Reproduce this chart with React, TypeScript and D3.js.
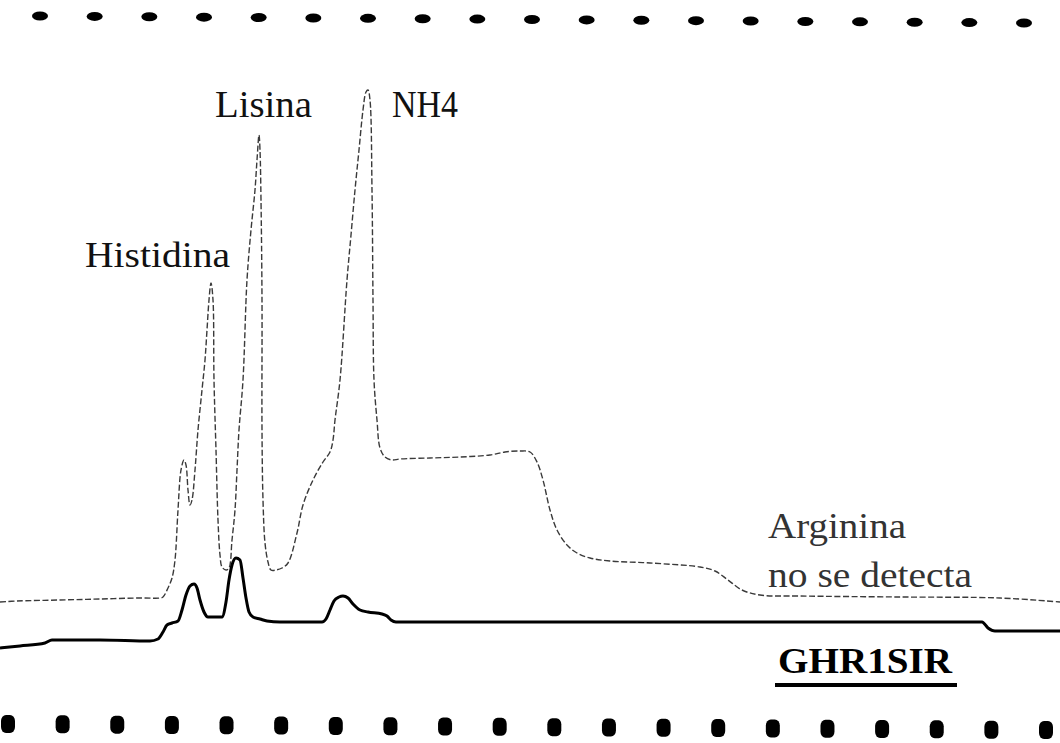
import React from 'react';
import * as d3 from 'd3';

const W = 1060;
const H = 743;

// Standard (thin trace): [retention time, detector signal]
const standardTrace: [number, number][] = [
  [0, 48], [1.7, 49], [6, 50], [10, 51], [14, 52], [16, 52], [16.3, 53], [16.8, 62], [17.2, 72], [17.5, 90],
  [17.8, 140], [18.1, 180], [18.4, 190], [18.6, 185], [18.8, 160], [19, 145], [19.2, 150], [19.5, 180], [19.8, 220],
  [20.2, 260], [20.5, 290], [20.7, 320], [20.9, 350], [21.1, 367], [21.3, 350], [21.4, 270], [21.6, 200], [21.8, 130],
  [22, 95], [22.2, 83], [22.6, 80], [22.9, 82], [23.2, 110], [23.5, 140], [23.7, 180], [23.9, 220], [24.3, 270],
  [24.7, 370], [25.1, 420], [25.5, 460], [25.7, 490], [25.9, 515], [26, 500], [26.1, 450], [26.2, 350], [26.2, 220],
  [26.3, 150], [26.5, 107], [26.8, 88], [27.1, 80], [27.6, 80], [28.2, 82], [28.8, 87], [29.7, 117], [30.3, 145],
  [31.3, 170], [32.3, 188], [33, 198], [33.3, 210], [33.5, 230], [34, 270], [34.7, 370], [35.1, 415], [35.5, 460],
  [35.9, 500], [36.3, 540], [36.6, 558], [36.8, 560], [37, 550], [37.2, 460], [37.3, 350], [37.4, 270], [37.7, 230],
  [38, 202], [38.5, 193], [39.2, 190], [40, 191], [43, 192], [46, 193], [49, 195], [50.5, 198], [52, 199], [53, 198],
  [53.7, 188], [54.3, 170], [55, 140], [55.7, 120], [56.7, 105], [57.7, 97], [59, 92], [61, 89], [65, 87], [70, 83],
  [71.5, 79], [72.8, 70], [74.2, 60], [76, 55], [80, 54], [90, 53], [100, 52], [106, 48]
];

// Sample GHR1SIR (thick trace): [retention time, detector signal]
const sampleTrace: [number, number][] = [
  [0, 2], [2, 4], [4.5, 7], [5.2, 10], [10, 10], [15, 9], [15.8, 11], [16.3, 18], [16.7, 25], [17.2, 27], [17.8, 29],
  [18.2, 40], [18.6, 55], [19, 64], [19.4, 66], [19.7, 62], [20, 50], [20.4, 38], [20.8, 33], [22.2, 33], [22.6, 48],
  [22.9, 70], [23.2, 85], [23.6, 92], [24, 90], [24.3, 72], [24.6, 52], [24.9, 38], [25.3, 33], [26, 31], [26.7, 29],
  [28, 28], [32.2, 28], [32.6, 31], [33, 40], [33.4, 49], [33.9, 53], [34.3, 54], [34.8, 52], [35.3, 46], [36, 40],
  [36.8, 38], [38.2, 36], [38.7, 34], [39.1, 30], [39.6, 28], [50, 28], [70, 28], [90, 28], [98.2, 28], [98.8, 22],
  [99.5, 19], [106, 19]
];

const peakNames = ['Histidina', 'Lisina', 'NH4'];
const noteLines = ['Arginina', 'no se detecta'];
const sampleName = 'GHR1SIR';

const xScale = d3.scaleLinear().domain([0, 106]).range([0, W]);
const yScale = d3.scaleLinear().domain([0, 600]).range([650, 50]);

const thinLine = d3
  .line<[number, number]>()
  .x((d) => xScale(d[0]))
  .y((d) => yScale(d[1]))
  .curve(d3.curveCatmullRom.alpha(0.5));

const thickLine = d3
  .line<[number, number]>()
  .x((d) => xScale(d[0]))
  .y((d) => yScale(d[1]))
  .curve(d3.curveMonotoneX);

const topHoles = d3.range(19);
const bottomHoles = d3.range(20);
const topX = d3.scaleLinear().domain([0, 18]).range([40, 1024]);
const topY = d3.scaleLinear().domain([0, 18]).range([16, 23]);
const botX = d3.scaleLinear().domain([0, 19]).range([8, 1046]);
const botY = d3.scaleLinear().domain([0, 19]).range([724, 730]);

export default function App() {
  const font = '"Liberation Serif", "Times New Roman", serif';
  return (
    <svg
      width={W}
      height={H}
      viewBox={`0 0 ${W} ${H}`}
      style={{ position: 'absolute', left: 0, top: 0, background: '#fff' }}
    >
      <rect x={0} y={0} width={W} height={H} fill="#fff" />
      {topHoles.map((i) => (
        <ellipse key={'t' + i} cx={topX(i)} cy={topY(i)} rx={8} ry={4.5} fill="#000" />
      ))}
      {bottomHoles.map((i) => (
        <rect
          key={'b' + i}
          x={botX(i) - 7}
          y={botY(i) - 9}
          width={14}
          height={18}
          rx={5}
          ry={6}
          fill="#000"
        />
      ))}
      <path
        d={thinLine(standardTrace) || ''}
        fill="none"
        stroke="#3a3a3a"
        strokeWidth={1.4}
        strokeDasharray="6 2.5"
      />
      <path d={thickLine(sampleTrace) || ''} fill="none" stroke="#000" strokeWidth={3} />
      <g fontFamily={font} fill="#111">
        <text x={85} y={267} fontSize={36} textLength={145} lengthAdjust="spacingAndGlyphs">
          {peakNames[0]}
        </text>
        <text x={215} y={117} fontSize={37} textLength={97} lengthAdjust="spacingAndGlyphs">
          {peakNames[1]}
        </text>
        <text x={392} y={117} fontSize={37} textLength={66} lengthAdjust="spacingAndGlyphs">
          {peakNames[2]}
        </text>
        <text x={768} y={538} fontSize={35} textLength={138} lengthAdjust="spacingAndGlyphs" fill="#333">
          {noteLines[0]}
        </text>
        <text x={768} y={587} fontSize={35} textLength={204} lengthAdjust="spacingAndGlyphs" fill="#333">
          {noteLines[1]}
        </text>
        <text
          x={778}
          y={673}
          fontSize={36}
          fontWeight="bold"
          fill="#000"
          textLength={174}
          lengthAdjust="spacingAndGlyphs"
        >
          {sampleName}
        </text>
        <line x1={775} x2={957} y1={685} y2={685} stroke="#000" strokeWidth={4} />
      </g>
    </svg>
  );
}
